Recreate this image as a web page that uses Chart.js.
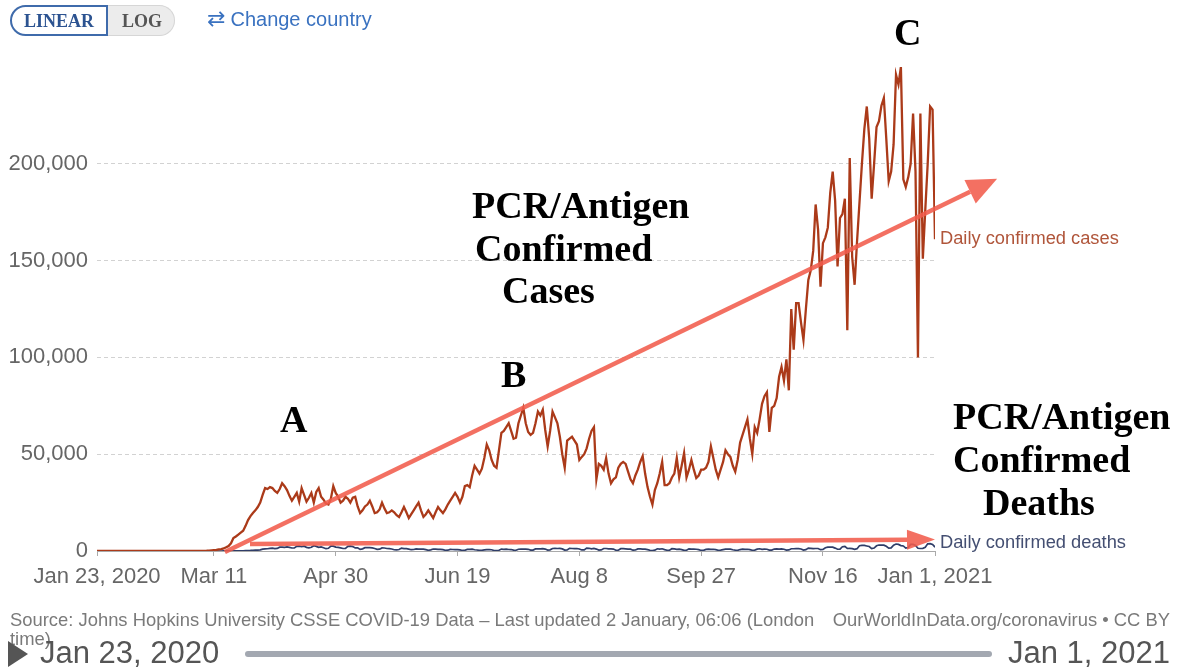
<!DOCTYPE html>
<html>
<head>
<meta charset="utf-8">
<script src="https://cdn.jsdelivr.net/npm/chart.js@4.4.1/dist/chart.umd.min.js"></script>
<style>
html,body{margin:0;padding:0;background:#fff;}
body{width:1178px;height:669px;position:relative;overflow:hidden;font-family:"Liberation Sans",Arial,sans-serif;}
#c{position:absolute;left:0;top:0;}
#ann{position:absolute;left:0;top:0;pointer-events:none;}
.toggle{position:absolute;left:10px;top:5px;height:31px;display:flex;}
.toggle span{display:block;height:27px;line-height:28px;font-family:"Liberation Serif","Times New Roman",serif;font-weight:bold;font-size:18px;}
.lin{border:2px solid #3f6bab;border-radius:16px 0 0 16px;background:#fff;color:#2c5391;padding:0 11px 0 12px;width:71px;}
.log{border:1px solid #d6d6d6;border-left:none;border-radius:0 16px 16px 0;background:#ececec;color:#555;padding:1px 0 1px 14px;width:52px;}
.cc{position:absolute;left:207px;top:6px;color:#3a72c0;font-size:20px;line-height:26px;white-space:nowrap;}
.cc .ic{font-family:"DejaVu Sans",sans-serif;font-size:22px;margin-right:5px;}
.src{position:absolute;left:10px;top:610px;color:#7a7a7a;font-size:18.4px;line-height:19px;white-space:nowrap;}
.owid{position:absolute;right:8px;top:610px;color:#7a7a7a;font-size:18.4px;line-height:19px;white-space:nowrap;}
.play{position:absolute;left:8px;top:641px;width:0;height:0;border-left:20px solid #555;border-top:13px solid transparent;border-bottom:13px solid transparent;}
.tl{position:absolute;top:635px;font-size:31px;line-height:36px;color:#555;white-space:nowrap;}
.bar{position:absolute;left:245px;top:651px;width:747px;height:6px;border-radius:3px;background:#a3a8b1;}
</style>
</head>
<body>
<canvas id="c" width="1178" height="669"></canvas>

<div class="toggle"><span class="lin">LINEAR</span><span class="log">LOG</span></div>
<div class="cc"><span class="ic">⇄</span>Change country</div>

<svg id="ann" width="1178" height="669" xmlns="http://www.w3.org/2000/svg" font-family="'Liberation Serif','Times New Roman',serif" font-weight="bold" font-size="38" fill="#000">
  <text x="894" y="45">C</text>
  <text x="472" y="218">PCR/Antigen</text>
  <text x="475" y="261">Confirmed</text>
  <text x="502" y="303">Cases</text>
  <text x="501" y="387">B</text>
  <text x="280" y="432">A</text>
  <text x="953" y="429">PCR/Antigen</text>
  <text x="953" y="472">Confirmed</text>
  <text x="983" y="515">Deaths</text>
</svg>

<div class="src">Source: Johns Hopkins University CSSE COVID-19 Data – Last updated 2 January, 06:06 (London<br>time)</div>
<div class="owid">OurWorldInData.org/coronavirus • CC BY</div>
<div class="play"></div>
<div class="tl" style="left:40px;">Jan 23, 2020</div>
<div class="bar"></div>
<div class="tl" style="right:8px;">Jan 1, 2021</div>

<script>
// ---- Data: daily confirmed cases, 23 Jan 2020 .. 1 Jan 2021 ----
const casesJan = [0,1,0,3,0,0,0,1,1];
const casesFeb = [1,0,3,0,0,0,1,0,0,0,0,0,0,0,0,0,0,0,0,0,18,0,0,0,0,1,0,3,2];
const casesMar = [8,23,20,31,70,68,114,120,180,290,420,550,800,1000,1300,1900,2600,4000,6700,7500,8500,9500,10500,13000,16000,18000,19600,21000,22700,25000,29000];
const casesApr = [32500,32000,33000,32500,31000,30000,32000,35000,33500,31500,28500,26000,28000,30000,25500,32500,29000,25500,27500,30000,25000,30500,32500,28000,26500,24500,24000,27000,33500,30000];
const casesMay = [28000,25000,26000,28000,27000,25000,27500,28000,23000,19600,21000,23000,24000,26000,23000,19600,20000,21500,25000,22000,19600,20000,21000,20000,18500,17600,20000,22700,20000,17000,19000];
const casesJun = [21000,23000,25000,21000,17600,19000,21000,19000,17000,20000,22700,21000,19600,21500,24000,26000,28000,30000,28000,25000,28000,33500,34000,33000,39000,44000,42000,40000,42500,48000];
const casesJul = [55000,52000,47000,44000,43000,52000,61000,62000,64000,66000,62000,58000,58500,66000,70000,74000,66000,61500,60000,61000,66000,72000,70000,73000,62500,54000,62000,72000,69000,66000,59000];
const casesAug = [50000,43000,57000,58000,59000,57000,55000,47000,48600,50000,53000,58000,62000,64000,37000,45000,44000,42000,48000,40000,35000,37000,38000,43000,45000,46000,45000,41000,37000,35000,39000];
const casesSep = [42000,46000,49000,40000,33000,28000,24000,31500,35000,40000,46000,34000,34000,35000,38000,40000,48000,38000,44000,50600,38000,42000,47000,42000,37700,39000,42000,42000,43000,46000];
const casesOct = [54000,48000,42000,38000,42000,46000,52000,50000,48600,44000,41000,47000,56000,60000,64000,68000,58000,50000,64000,61000,68000,76000,80000,82000,61500,74000,75000,79000,90000,95000,88000];
const casesNov = [99000,83000,125000,104000,128000,128000,118000,109000,125000,140000,145000,155000,179000,166000,136500,159000,162000,167000,185000,196000,181000,147000,172000,174000,182000,114000,203000,152000,137500,160000];
const casesDec = [180000,200000,218000,229600,213000,182000,200000,219000,222000,230000,234000,213000,191000,196000,210000,246000,241000,250000,192000,188000,193000,200000,226000,196000,100000,226000,151000,176000,200000,229600,228000];
const casesJan21 = [161000];

// ---- Data: daily confirmed deaths ----
const deathsJan = [0,0,0,0,0,0,0,0,0];
const deathsFeb = [0,0,0,0,0,0,0,0,0,0,0,0,0,0,0,0,0,0,0,0,0,0,0,0,0,0,0,0,1];
const deathsMar = [1,5,1,4,1,2,3,4,4,3,8,7,11,9,18,23,25,41,48,55,75,111,139,180,247,286,402,495,462,575,945];
const deathsApr = [1100,1170,1380,1490,1270,1340,1960,1990,1880,2080,1880,1550,1560,2380,2500,2200,2500,1900,1600,1900,2700,2400,1900,2100,1700,1200,1400,2500,2500,2000];
const deathsMay = [1900,1600,1300,1300,2400,2500,2300,1600,1600,800,1100,1700,1800,1700,1600,1300,850,950,1600,1550,1300,1250,1050,630,560,750,1500,1200,1200,960,660];
const deathsJun = [760,1100,1000,1000,970,700,370,600,1000,980,880,830,710,380,420,830,780,700,680,580,280,370,840,800,1000,640,510,300,350,580];
const deathsJul = [700,690,640,270,250,380,1000,850,990,780,750,440,400,900,970,950,950,880,500,450,1100,1150,1100,1200,1000,500,600,1300,1400,1300,1350];
const deathsAug = [1100,450,560,1400,1300,1250,1300,1050,550,560,1500,1400,1100,1300,1000,500,550,1300,1300,1100,1100,1000,400,450,1200,1200,1100,1000,950,430,500];
const deathsSep = [1100,1100,1000,1000,700,400,270,450,1150,1000,1150,700,400,420,1200,1100,850,920,730,300,400,1100,1000,1000,900,730,280,330,850,1000];
const deathsOct = [850,900,700,380,500,700,920,950,940,660,450,350,750,1000,850,900,730,400,460,940,1150,880,950,900,450,500,1000,1050,1000,1050,900];
const deathsNov = [450,550,1150,1150,1200,1250,1050,500,700,1500,1400,1200,1300,1300,700,800,1700,2000,2000,2000,1500,900,1000,2200,2400,1300,1400,1200,850,1200];
const deathsDec = [2700,2900,2900,2600,2300,1200,1500,2700,3100,3000,3000,2400,1500,1600,3000,3600,3400,2800,2600,1500,1800,3400,3400,2900,1400,1300,1400,1900,3700,3800,3400];
const deathsJan21 = [2000];

// ---- Axis ticks (day index since 23 Jan 2020) ----
const tickDays = [0, 48, 98, 148, 198, 248, 298, 344];
const tickLabels = ['Jan 23, 2020', 'Mar 11', 'Apr 30', 'Jun 19', 'Aug 8', 'Sep 27', 'Nov 16', 'Jan 1, 2021'];
const yTicks = [0, 50000, 100000, 150000, 200000];
const seriesNames = ['Daily confirmed cases', 'Daily confirmed deaths'];

const cases = [].concat(casesJan, casesFeb, casesMar, casesApr, casesMay, casesJun, casesJul, casesAug, casesSep, casesOct, casesNov, casesDec, casesJan21);
const deaths = [].concat(deathsJan, deathsFeb, deathsMar, deathsApr, deathsMay, deathsJun, deathsJul, deathsAug, deathsSep, deathsOct, deathsNov, deathsDec, deathsJan21);

// ---- Styles / annotations ----
const CASE_COLOR = '#ab3a19';
const DEATH_COLOR = '#2f3d68';
const ARROW_COLOR = 'rgba(241,92,76,0.88)';
const arrows = [
  { from: [52.5, -500], to: [369.5, 192300], head: 30, half: 13 },
  { from: [62.8, 3600], to: [344, 5900], head: 28, half: 10 }
];

Chart.defaults.font.family = '"Liberation Sans", Arial, sans-serif';

const overlay = {
  id: 'overlay',
  afterDatasetsDraw(chart) {
    const { ctx, chartArea } = chart;
    const xs = chart.scales.x, ys = chart.scales.y;
    arrows.forEach(a => {
      const x1 = xs.getPixelForValue(a.from[0]), y1 = ys.getPixelForValue(a.from[1]);
      const x2 = xs.getPixelForValue(a.to[0]), y2 = ys.getPixelForValue(a.to[1]);
      const ang = Math.atan2(y2 - y1, x2 - x1);
      const bx = x2 - a.head * Math.cos(ang), by = y2 - a.head * Math.sin(ang);
      ctx.save();
      ctx.strokeStyle = ARROW_COLOR; ctx.fillStyle = ARROW_COLOR; ctx.lineWidth = 4.5;
      ctx.beginPath(); ctx.moveTo(x1, y1); ctx.lineTo(bx, by); ctx.stroke();
      ctx.beginPath(); ctx.moveTo(x2, y2);
      ctx.lineTo(bx + a.half * Math.sin(ang), by - a.half * Math.cos(ang));
      ctx.lineTo(bx - a.half * Math.sin(ang), by + a.half * Math.cos(ang));
      ctx.closePath(); ctx.fill();
      ctx.restore();
    });
    const labelColors = ['#b0553a', '#444f72'];
    chart.data.datasets.forEach((ds, i) => {
      const meta = chart.getDatasetMeta(i);
      const last = meta.data[meta.data.length - 1];
      const yy = Math.min(last.y, chartArea.bottom - 8);
      ctx.save();
      ctx.font = '18.3px "Liberation Sans", Arial, sans-serif';
      ctx.fillStyle = labelColors[i];
      ctx.textBaseline = 'middle';
      ctx.textAlign = 'left';
      ctx.fillText(seriesNames[i], chartArea.right + 5, yy);
      ctx.restore();
    });
  }
};

new Chart(document.getElementById('c'), {
  type: 'line',
  data: {
    datasets: [
      { label: seriesNames[0], data: cases.map((v, i) => ({ x: i, y: v })), borderColor: CASE_COLOR, borderWidth: 2.3, pointRadius: 0, tension: 0, order: 1 },
      { label: seriesNames[1], data: deaths.map((v, i) => ({ x: i, y: v })), borderColor: DEATH_COLOR, borderWidth: 1.7, pointRadius: 0, tension: 0, order: 2 }
    ]
  },
  options: {
    responsive: false, animation: false, devicePixelRatio: 1,
    layout: { padding: { left: 0, top: 67, right: 243, bottom: 73 } },
    plugins: { legend: { display: false }, tooltip: { enabled: false } },
    scales: {
      x: {
        type: 'linear', min: 0, max: 344,
        afterBuildTicks(s) { s.ticks = tickDays.map(v => ({ value: v })); },
        afterFit(s) { s.height = 45; },
        ticks: { autoSkip: false, maxRotation: 0, padding: 8, color: '#666', font: { size: 22 },
                 callback: (v, i) => tickLabels[i] },
        grid: { drawOnChartArea: false, drawTicks: true, tickLength: 5, color: '#aaa' },
        border: { display: true, color: '#aaa' }
      },
      y: {
        min: 0, max: 250000,
        afterBuildTicks(s) { s.ticks = yTicks.concat([250000]).map(v => ({ value: v })); },
        afterFit(s) { s.width = 97; },
        ticks: { padding: 9, color: '#666', font: { size: 22 },
                 callback: (v) => yTicks.includes(v) ? v.toLocaleString('en-US') : '' },
        grid: { drawTicks: false, lineWidth: 1,
                color: (c) => (c.tick && (c.tick.value === 0 || c.tick.value === 250000)) ? 'rgba(0,0,0,0)' : '#d2d2d2' },
        border: { display: false, dash: [4, 3] }
      }
    }
  },
  plugins: [overlay]
});
</script>
</body>
</html>
